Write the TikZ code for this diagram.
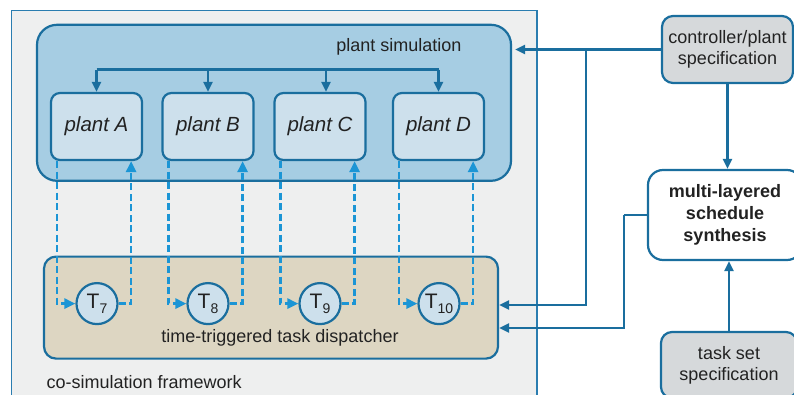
\documentclass[tikz,border=0pt]{standalone}
\usepackage{fontspec}
\setmainfont{Liberation Sans}
\usetikzlibrary{arrows.meta,calc}
\definecolor{frameFill}{HTML}{EEEFEF}
\definecolor{frameLine}{HTML}{2A7DB0}
\definecolor{simFill}{HTML}{A6CDE3}
\definecolor{darkBlue}{HTML}{1A6E9E}
\definecolor{plantFill}{HTML}{CDE0EC}
\definecolor{dispFill}{HTML}{DDD6C2}
\definecolor{specFill}{HTML}{D6D9DB}
\definecolor{dashBlue}{HTML}{1B95D5}
\definecolor{txt}{HTML}{222222}
\tikzset{
  frame/.style={draw=frameLine, line width=1.2pt, fill=frameFill, rectangle},
  simbox/.style={draw=darkBlue, line width=2.2pt, fill=simFill, rounded corners=20pt, rectangle},
  plantbox/.style={draw=darkBlue, line width=2.2pt, fill=plantFill, rounded corners=9pt, rectangle,
    minimum width=91pt, minimum height=67pt, text=txt, font=\fontsize{20.5}{24}\selectfont\itshape},
  dispbox/.style={draw=darkBlue, line width=2.2pt, fill=dispFill, rounded corners=12pt, rectangle},
  task/.style={draw=darkBlue, line width=2.2pt, fill=plantFill, circle, minimum size=41pt, inner sep=0pt,
    text=txt, font=\fontsize{21}{21}\selectfont},
  specbox/.style={draw=darkBlue, line width=2.2pt, fill=specFill, rounded corners=11pt, rectangle, align=center,
    text=txt, font=\fontsize{18}{21}\selectfont},
  synbox/.style={draw=darkBlue, line width=2.2pt, fill=white, rounded corners=15pt, rectangle, align=center,
    text=txt, font=\fontsize{18}{22}\selectfont\bfseries},
  lbl/.style={text=txt, font=\fontsize{18}{21}\selectfont, inner sep=0pt},
  conn/.style={draw=darkBlue, line width=2.8pt, -{Triangle[length=10pt,width=9pt]}},
  connplain/.style={draw=darkBlue, line width=2.8pt},
  dashconn/.style={draw=dashBlue, line width=2.6pt, dash pattern=on 7pt off 3.5pt, -{Triangle[length=11pt,width=10pt]}},
}
\newcommand{\tsub}[1]{T\raisebox{-5pt}{\fontsize{14}{14}\selectfont #1}}
\begin{document}
\begin{tikzpicture}[x=1pt,y=-1pt]
\useasboundingbox (0,0) rectangle (794,395);
\clip (0,0) rectangle (794,395);
% co-simulation framework
\node[frame, minimum width=525.6pt, minimum height=420pt, inner sep=0pt] (fw) at (274.2,220.3) {};
\node[lbl, anchor=base west] (fwlbl) at (46.5,388.5) {co-simulation framework};
% plant simulation
\node[simbox, minimum width=474pt, minimum height=156pt, inner sep=0pt] (sim) at (274,102.8) {};
\node[lbl] (simlbl) at (399,47) {plant simulation};
\node[plantbox] (A) at (96.5,126.5) {plant A};
\node[plantbox] (B) at (208,126.5) {plant B};
\node[plantbox] (C) at (320,126.5) {plant C};
\node[plantbox] (D) at (438.5,126.5) {plant D};
% dispatcher
\node[dispbox, minimum width=454pt, minimum height=102pt, inner sep=0pt] (disp) at (271,307.6) {};
\node[lbl] (displbl) at (280,338) {time-triggered task dispatcher};
\node[task] (T7) at (97,303.6) {\tsub{7}};
\node[task] (T8) at (208,303.6) {\tsub{8}};
\node[task] (T9) at (320,303.6) {\tsub{9}};
\node[task] (T10) at (439,303.6) {\tsub{10}};
% right side
\node[specbox, minimum width=131pt, minimum height=67pt, inner sep=0pt] (ctrl) at (727.5,49.5) {controller/plant\\specification};
\node[synbox, minimum width=154pt, minimum height=90pt, inner sep=0pt] (syn) at (725,215) {multi-layered\\schedule\\synthesis};
\node[specbox, minimum width=136pt, minimum height=66pt, inner sep=0pt] (tset) at (729,365) {task set\\specification};
% distribution line in plant simulation
\draw[connplain] ([yshift=22pt]A.north) -- ([yshift=22pt]D.north);
\draw[conn] ([yshift=22pt]A.north) -- (A.north);
\draw[conn] ([yshift=22pt]B.north) -- (B.north);
\draw[conn] ([xshift=6pt,yshift=22pt]C.north) -- ([xshift=6pt]C.north);
\draw[conn] ([yshift=22pt]D.north) -- (D.north);
% dashed plant <-> task links
\foreach \p/\t in {A/T7,B/T8,C/T9,D/T10}{
  \draw[dashconn] ([xshift=7pt]\p.south west) |- (\t.west);
  \draw[dashconn] (\t.east) -| ([xshift=-12pt]\p.south east);
}
% right-side connectors
\coordinate (j1) at ($(ctrl.west)+(-75,0)$);
\draw[conn, shorten >=3pt] (ctrl.west) -- (sim.east |- ctrl.west);
\draw[conn] (j1) |- ([yshift=2.6pt]disp.east);
\coordinate (j2) at ($(syn.west)+(-23,0)$);
\draw[connplain] (syn.west) -- (j2);
\draw[conn] (j2) |- ([yshift=-20.4pt]disp.east);
\draw[conn] (ctrl.south) -- (ctrl.south |- syn.north);
\draw[conn] (tset.north) -- (tset.north |- syn.south);
\end{tikzpicture}
\end{document}
